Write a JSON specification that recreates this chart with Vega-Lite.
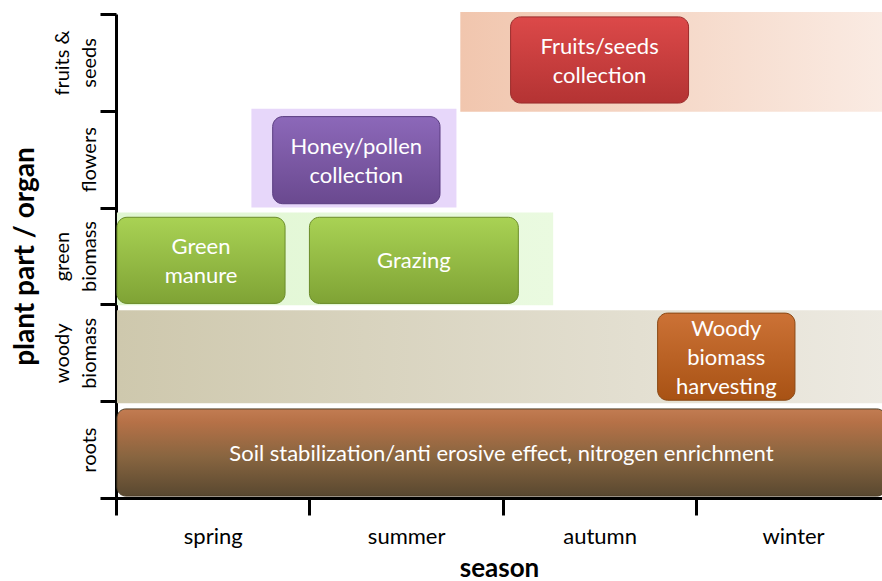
{
  "$schema": "https://vega.github.io/schema/vega-lite/v6.json",
  "width": 766,
  "height": 484,
  "autosize": {"type": "none"},
  "padding": {"left": 116, "top": 14, "right": 0, "bottom": 83},
  "background": "white",
  "config": {"view": {"stroke": null}},
  "data": {
    "values": [
      {"id": "band_fruits", "x0": 1.78, "x1": 3.98, "y0": 3.99, "y1": 5.02},
      {"id": "band_flowers", "x0": 0.70, "x1": 1.76, "y0": 3.0, "y1": 4.02},
      {"id": "band_green", "x0": 0.005, "x1": 2.26, "y0": 1.99, "y1": 2.95},
      {"id": "band_woody", "x0": 0.005, "x1": 3.98, "y0": 0.98, "y1": 1.94},
      {"id": "box_roots", "x0": 0.005, "x1": 3.98, "y0": 0.02, "y1": 0.92, "lines": 1, "label": "Soil stabilization/anti erosive effect, nitrogen enrichment"},
      {"id": "box_woody", "x0": 2.80, "x1": 3.51, "y0": 1.01, "y1": 1.91, "lines": 3, "label": "Woody\nbiomass\nharvesting"},
      {"id": "box_green", "x0": 0.005, "x1": 0.874, "y0": 2.01, "y1": 2.90, "lines": 2, "label": "Green\nmanure"},
      {"id": "box_green", "x0": 1.0, "x1": 2.08, "y0": 2.01, "y1": 2.90, "lines": 1, "label": "Grazing"},
      {"id": "box_flowers", "x0": 0.81, "x1": 1.675, "y0": 3.04, "y1": 3.94, "lines": 2, "label": "Honey/pollen\ncollection"},
      {"id": "box_fruits", "x0": 2.04, "x1": 2.96, "y0": 4.08, "y1": 4.97, "lines": 2, "label": "Fruits/seeds\ncollection"}
    ]
  },
  "encoding": {
    "x": {
      "field": "x0", "type": "quantitative",
      "scale": {"domain": [0, 3.96], "nice": false, "zero": false},
      "axis": {
        "values": [0, 0.5, 1, 1.5, 2, 2.5, 3, 3.5],
        "labelExpr": "datum.value==0.5?'spring':datum.value==1.5?'summer':datum.value==2.5?'autumn':datum.value==3.5?'winter':''",
        "grid": false,
        "domainColor": "black", "domainWidth": 3,
        "tickColor": "black", "tickWidth": 3, "tickSize": 17,
        "tickOpacity": {"condition": {"test": "datum.value % 1 === 0", "value": 1}, "value": 0},
        "labelFont": "Lato", "labelFontSize": 22, "labelColor": "black", "labelPadding": 11,
        "labelFlush": false, "labelOverlap": false,
        "title": "season", "titleFont": "Lato", "titleFontSize": 26, "titleFontWeight": "bold",
        "titleColor": "black", "titlePadding": 8
      }
    },
    "x2": {"field": "x1"},
    "y": {
      "field": "y0", "type": "quantitative",
      "scale": {"domain": [0, 5], "nice": false, "zero": false},
      "axis": {
        "values": [0, 0.5, 1, 1.5, 2, 2.5, 3, 3.5, 4, 4.5, 5],
        "labelExpr": "datum.value==4.5?['fruits &','seeds']:datum.value==3.5?'flowers':datum.value==2.5?['green','biomass']:datum.value==1.5?['woody','biomass']:datum.value==0.5?'roots':''",
        "grid": false,
        "domainColor": "black", "domainWidth": 3,
        "tickColor": "black", "tickWidth": 3, "tickSize": 16,
        "tickOpacity": {"condition": {"test": "datum.value % 1 === 0", "value": 1}, "value": 0},
        "labelFont": "Lato", "labelFontSize": 20, "labelColor": "black",
        "labelPadding": {"condition": {"test": "datum.value == 4.5 || datum.value == 2.5 || datum.value == 1.5", "value": 28}, "value": 1},
        "labelAngle": -90, "labelAlign": "center", "labelBaseline": "bottom", "labelLineHeight": 27,
        "labelFlush": false, "labelOverlap": false,
        "title": "plant part / organ", "titleFont": "Lato", "titleFontSize": 28, "titleFontWeight": "bold",
        "titleColor": "black", "titlePadding": 13
      }
    },
    "y2": {"field": "y1"}
  },
  "layer": [
    {
      "transform": [{"filter": "datum.id == 'band_fruits'"}],
      "mark": {"type": "rect", "fill": {"gradient": "linear", "x1": 0, "y1": 0, "x2": 1, "y2": 0, "stops": [{"offset": 0, "color": "#f1c6ae"}, {"offset": 1, "color": "#faebe3"}]}}
    },
    {
      "transform": [{"filter": "datum.id == 'band_flowers'"}],
      "mark": {"type": "rect", "fill": "#e7d7fa"}
    },
    {
      "transform": [{"filter": "datum.id == 'band_green'"}],
      "mark": {"type": "rect", "fill": {"gradient": "linear", "x1": 0, "y1": 0, "x2": 1, "y2": 0, "stops": [{"offset": 0, "color": "#e0f6d2"}, {"offset": 1, "color": "#eafae0"}]}}
    },
    {
      "transform": [{"filter": "datum.id == 'band_woody'"}],
      "mark": {"type": "rect", "fill": {"gradient": "linear", "x1": 0, "y1": 0, "x2": 1, "y2": 0, "stops": [{"offset": 0, "color": "#cec8ad"}, {"offset": 1, "color": "#edeae2"}]}}
    },
    {
      "transform": [{"filter": "datum.id == 'box_roots'"}],
      "mark": {"type": "rect", "cornerRadius": 9, "stroke": "#4e3f28", "strokeWidth": 1, "fill": {"gradient": "linear", "x1": 0, "y1": 0, "x2": 0, "y2": 1, "stops": [{"offset": 0, "color": "#c27c52"}, {"offset": 0.15, "color": "#b67147"}, {"offset": 0.55, "color": "#886540"}, {"offset": 1, "color": "#594830"}]}}
    },
    {
      "transform": [{"filter": "datum.id == 'box_woody'"}],
      "mark": {"type": "rect", "cornerRadius": 10, "stroke": "#8a4814", "strokeWidth": 1, "fill": {"gradient": "linear", "x1": 0, "y1": 0, "x2": 0, "y2": 1, "stops": [{"offset": 0, "color": "#cc7236"}, {"offset": 1, "color": "#a85214"}]}}
    },
    {
      "transform": [{"filter": "datum.id == 'box_green'"}],
      "mark": {"type": "rect", "cornerRadius": 10, "stroke": "#6b8c2a", "strokeWidth": 1, "fill": {"gradient": "linear", "x1": 0, "y1": 0, "x2": 0, "y2": 1, "stops": [{"offset": 0, "color": "#a9d254"}, {"offset": 1, "color": "#7fa335"}]}}
    },
    {
      "transform": [{"filter": "datum.id == 'box_flowers'"}],
      "mark": {"type": "rect", "cornerRadius": 10, "stroke": "#5a3d80", "strokeWidth": 1, "fill": {"gradient": "linear", "x1": 0, "y1": 0, "x2": 0, "y2": 1, "stops": [{"offset": 0, "color": "#8c68b9"}, {"offset": 1, "color": "#6a498f"}]}}
    },
    {
      "transform": [{"filter": "datum.id == 'box_fruits'"}],
      "mark": {"type": "rect", "cornerRadius": 10, "stroke": "#9a2a2a", "strokeWidth": 1, "fill": {"gradient": "linear", "x1": 0, "y1": 0, "x2": 0, "y2": 1, "stops": [{"offset": 0, "color": "#dc4949"}, {"offset": 1, "color": "#b43333"}]}}
    },
    {
      "transform": [
        {"filter": "datum.lines == 1"},
        {"calculate": "(datum.x0 + datum.x1) / 2", "as": "xm"},
        {"calculate": "(datum.y0 + datum.y1) / 2", "as": "ym"}
      ],
      "mark": {"type": "text", "color": "white", "font": "Lato", "fontSize": 22, "lineHeight": 29, "lineBreak": "\n", "align": "center", "baseline": "middle", "dy": 1},
      "encoding": {
        "x": {"field": "xm", "type": "quantitative"},
        "y": {"field": "ym", "type": "quantitative"},
        "x2": null,
        "y2": null,
        "text": {"field": "label", "type": "nominal"}
      }
    },
    {
      "transform": [
        {"filter": "datum.lines == 2"},
        {"calculate": "(datum.x0 + datum.x1) / 2", "as": "xm"},
        {"calculate": "(datum.y0 + datum.y1) / 2", "as": "ym"}
      ],
      "mark": {"type": "text", "color": "white", "font": "Lato", "fontSize": 22, "lineHeight": 29, "lineBreak": "\n", "align": "center", "baseline": "middle", "dy": -13},
      "encoding": {
        "x": {"field": "xm", "type": "quantitative"},
        "y": {"field": "ym", "type": "quantitative"},
        "x2": null,
        "y2": null,
        "text": {"field": "label", "type": "nominal"}
      }
    },
    {
      "transform": [
        {"filter": "datum.lines == 3"},
        {"calculate": "(datum.x0 + datum.x1) / 2", "as": "xm"},
        {"calculate": "(datum.y0 + datum.y1) / 2", "as": "ym"}
      ],
      "mark": {"type": "text", "color": "white", "font": "Lato", "fontSize": 22, "lineHeight": 29, "lineBreak": "\n", "align": "center", "baseline": "middle", "dy": -28},
      "encoding": {
        "x": {"field": "xm", "type": "quantitative"},
        "y": {"field": "ym", "type": "quantitative"},
        "x2": null,
        "y2": null,
        "text": {"field": "label", "type": "nominal"}
      }
    }
  ]
}
